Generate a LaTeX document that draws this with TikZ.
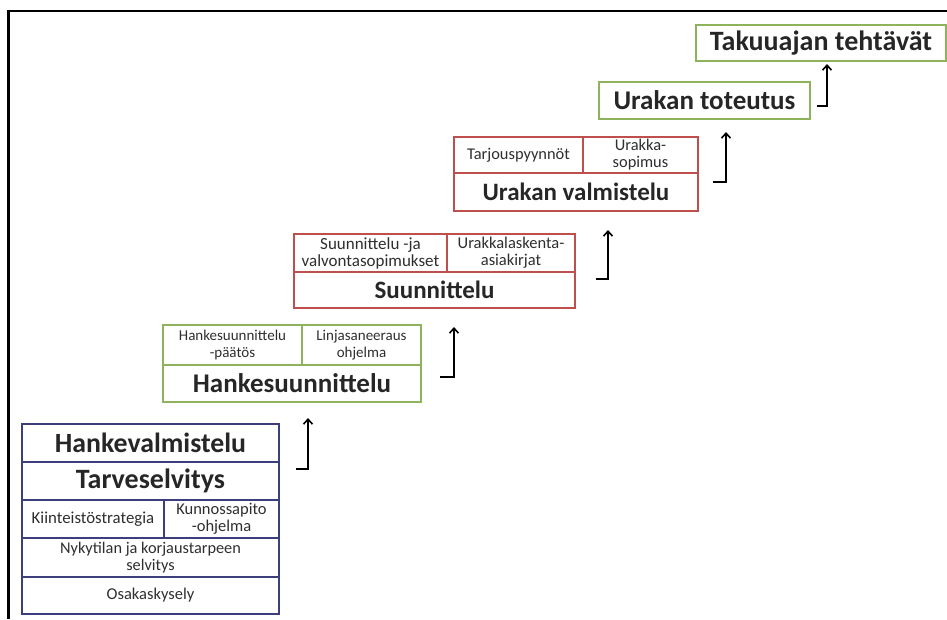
\documentclass[tikz,border=0pt]{standalone}
\usepackage{fontspec}
\setmainfont{Carlito}
\usetikzlibrary{arrows.meta}
\definecolor{blueC}{HTML}{3C3F7C}
\definecolor{greenC}{HTML}{8DB35C}
\definecolor{redC}{HTML}{BF4F4C}
\definecolor{txt}{HTML}{2E2E2E}
\definecolor{ttxt}{HTML}{262626}
\newcommand\tfont[1]{\fontsize{#1}{#1}\selectfont\bfseries}
\newcommand\sfont[1]{\fontsize{#1}{17}\selectfont}
\tikzset{
  cell/.style={draw, line width=1.8pt, inner sep=0pt, outer sep=0pt, align=center, text=txt},
  bcell/.style={cell, draw=blueC},
  gcell/.style={cell, draw=greenC},
  rcell/.style={cell, draw=redC},
  stepArrow/.style={line width=1.6pt, -{Straight Barb[length=5pt,width=9pt]}},
}
\begin{document}
\begin{tikzpicture}[x=1pt,y=-1pt]
\useasboundingbox (0,0) rectangle (947,619);
% frame
\coordinate (fbl) at (8.5,619);
\coordinate (ftl) at (8.5,11);
\coordinate (ftr) at (947,11);
\draw[line width=2.2pt] (fbl) -- (ftl) -- (ftr);

% blue stack
\node[bcell, text=ttxt, font={\tfont{27.8}}, minimum width=257pt, minimum height=38pt] (b1) at (150.5,443) {Hankevalmistelu};
\node[bcell, text=ttxt, font={\tfont{28}}, minimum width=257pt, minimum height=38pt] (b2) at (150.5,481) {Tarveselvitys};
\node[bcell, font={\sfont{16.8}}, minimum width=142pt, minimum height=38pt] (b3a) at (93,519) {Kiinteistöstrategia};
\node[bcell, font={\sfont{16.5}}, minimum width=115pt, minimum height=38pt] (b3b) at (221.5,519) {Kunnossapito\\-ohjelma};
\node[bcell, font={\sfont{16.3}}, minimum width=257pt, minimum height=39pt] (b4) at (150.5,557.5) {Nykytilan ja korjaustarpeen\\selvitys};
\node[bcell, font={\sfont{16.5}}, minimum width=257pt, minimum height=37pt] (b5) at (150.5,595.5) {Osakaskysely};

% green Hankesuunnittelu
\node[gcell, font={\sfont{15}}, minimum width=139pt, minimum height=40pt] (g1a) at (232.5,345) {Hankesuunnittelu\\-päätös};
\node[gcell, font={\sfont{15}}, minimum width=119pt, minimum height=40pt] (g1b) at (361.5,345) {Linjasaneeraus\\ohjelma};
\node[gcell, text=ttxt, font={\tfont{27}}, minimum width=258pt, minimum height=37pt] (g1c) at (292,383.5) {Hankesuunnittelu};

% red Suunnittelu
\node[rcell, font={\sfont{17}}, minimum width=153pt, minimum height=38pt] (r1a) at (370.5,253) {Suunnittelu -ja\\valvontasopimukset};
\node[rcell, font={\sfont{16.5}}, minimum width=128pt, minimum height=38pt] (r1b) at (511,253) {Urakkalaskenta-\\asiakirjat};
\node[rcell, text=ttxt, font={\tfont{25}}, minimum width=281pt, minimum height=36pt] (r1c) at (434.5,290) {Suunnittelu};

% red Urakan valmistelu
\node[rcell, font={\sfont{16.4}}, minimum width=129pt, minimum height=36pt] (r2a) at (518.5,155) {Tarjouspyynnöt};
\node[rcell, font={\sfont{16.4}}, minimum width=115pt, minimum height=36pt] (r2b) at (640.5,155) {Urakka-\\sopimus};
\node[rcell, text=ttxt, font={\tfont{25}}, minimum width=244pt, minimum height=38pt] (r2c) at (576,192) {Urakan valmistelu};

% green top boxes
\node[gcell, text=ttxt, font={\tfont{27}}, minimum width=211pt, minimum height=37pt] (g2) at (704.5,100.5) {Urakan toteutus};
\node[gcell, text=ttxt, font={\tfont{28}}, minimum width=250pt, minimum height=36pt] (g3) at (821,43) {Takuuajan tehtävät};

% step arrows
\coordinate (a1s) at (296,469); \coordinate (a1c) at (308,469); \coordinate (a1e) at (308,418);
\coordinate (a2s) at (440,377); \coordinate (a2c) at (454,377); \coordinate (a2e) at (454,327);
\coordinate (a3s) at (596,279); \coordinate (a3c) at (608,279); \coordinate (a3e) at (608,230);
\coordinate (a4s) at (713,182); \coordinate (a4c) at (726,182); \coordinate (a4e) at (726,132);
\coordinate (a5s) at (817,106); \coordinate (a5c) at (827,106); \coordinate (a5e) at (827,64);
\draw[stepArrow] (a1s) -- (a1c) -- (a1e);
\draw[stepArrow] (a2s) -- (a2c) -- (a2e);
\draw[stepArrow] (a3s) -- (a3c) -- (a3e);
\draw[stepArrow] (a4s) -- (a4c) -- (a4e);
\draw[stepArrow] (a5s) -- (a5c) -- (a5e);
\end{tikzpicture}
\end{document}
